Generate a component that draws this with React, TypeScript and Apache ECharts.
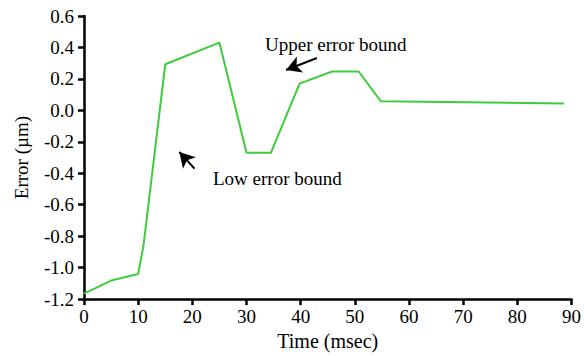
import React, { useEffect, useRef } from "react";
import * as echarts from "echarts";

const timeMs = [0, 5, 10, 11, 15, 25, 30, 34.5, 39.8, 45.8, 50.7, 54.8, 88.6];
const errorUm = [-1.165, -1.082, -1.04, -0.856, 0.293, 0.431, -0.27, -0.27, 0.17, 0.247, 0.247, 0.058, 0.044];
const xTicks = [0, 10, 20, 30, 40, 50, 60, 70, 80, 90];
const yTicks = [-1.2, -1.0, -0.8, -0.6, -0.4, -0.2, 0.0, 0.2, 0.4, 0.6];
const upperArrow = [[43.0, 0.333], [37.3, 0.257]];
const lowArrow = [[20.4, -0.37], [17.6, -0.264]];
const upperLabel = "Upper error bound";
const lowLabel = "Low error bound";

const FONT = "'Liberation Serif', 'Times New Roman', serif";

export default function App() {
  const ref = useRef<HTMLDivElement>(null);
  useEffect(() => {
    const chart = echarts.init(ref.current!, null, { renderer: "svg" });
    const axisLine = { show: true, onZero: false, lineStyle: { color: "#000", width: 2.5 } };
    const axisTick = { show: true, length: 6, lineStyle: { color: "#000", width: 2.5 } };
    chart.setOption({
      animation: false,
      backgroundColor: "#fff",
      grid: { left: 84, right: 10.4, top: 16, bottom: 53.3 },
      xAxis: {
        type: "value",
        min: xTicks[0],
        max: xTicks[xTicks.length - 1],
        interval: 10,
        name: "Time (msec)",
        nameLocation: "middle",
        nameGap: 29,
        nameTextStyle: { fontFamily: FONT, fontSize: 20, color: "#000" },
        axisLine,
        axisTick,
        axisLabel: { fontFamily: FONT, fontSize: 19, color: "#000", margin: 8 },
        splitLine: { show: false },
      },
      yAxis: {
        type: "value",
        min: yTicks[0],
        max: yTicks[yTicks.length - 1],
        interval: 0.2,
        name: "Error (µm)",
        nameLocation: "middle",
        nameGap: 53,
        nameTextStyle: { fontFamily: FONT, fontSize: 19, color: "#000" },
        axisLine,
        axisTick,
        axisLabel: {
          fontFamily: FONT,
          fontSize: 19,
          color: "#000",
          margin: 10,
          formatter: (v: number) => v.toFixed(1),
        },
        splitLine: { show: false },
      },
      series: [
        {
          type: "line",
          data: timeMs.map((t, i) => [t, errorUm[i]]),
          symbol: "none",
          lineStyle: { color: "#3ccc3c", width: 2 },
          markLine: {
            silent: true,
            symbol: ["none", "arrow"],
            symbolSize: [13, 15],
            label: { show: false },
            lineStyle: { color: "#000", width: 2, type: "solid" },
            data: [
              [{ coord: upperArrow[0] }, { coord: upperArrow[1] }],
              [{ coord: lowArrow[0] }, { coord: lowArrow[1] }],
            ],
          },
        },
      ],
      graphic: [
        {
          type: "text",
          x: 265,
          y: 44,
          style: {
            text: upperLabel,
            fontFamily: FONT,
            fontSize: 19,
            fill: "#000",
            verticalAlign: "middle",
          },
        },
        {
          type: "text",
          x: 213,
          y: 178,
          style: {
            text: lowLabel,
            fontFamily: FONT,
            fontSize: 19,
            fill: "#000",
            verticalAlign: "middle",
          },
        },
      ],
    });
    return () => chart.dispose();
  }, []);
  return <div ref={ref} style={{ width: 584, height: 356, position: "absolute", left: 0, top: 0 }} />;
}
